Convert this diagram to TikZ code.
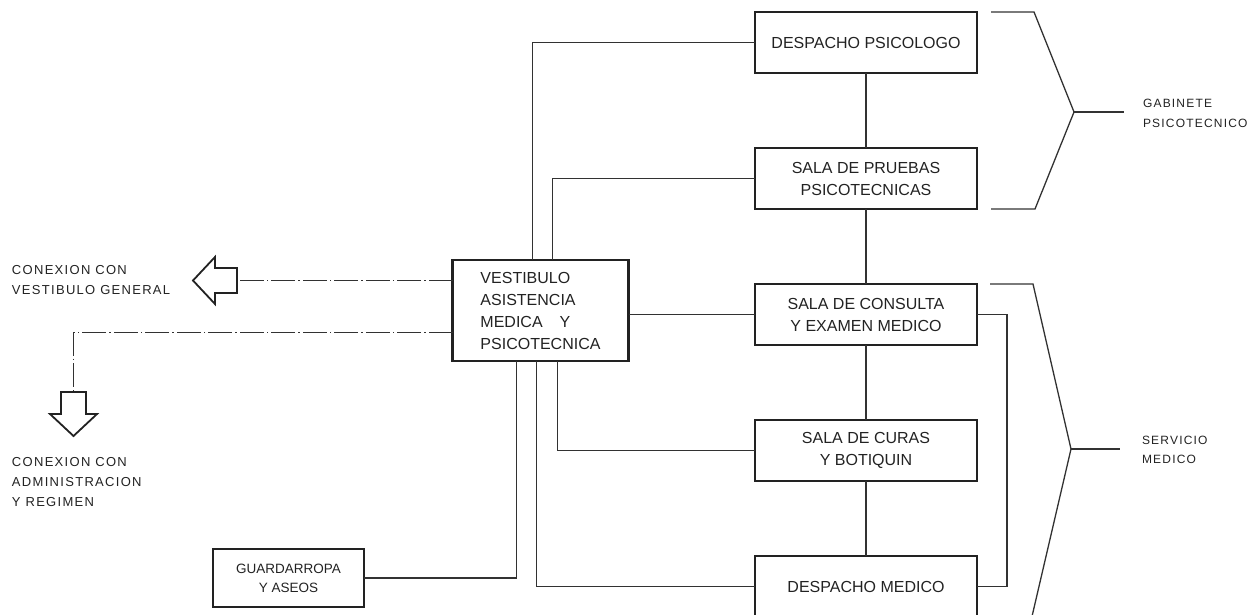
\documentclass[tikz,border=0pt]{standalone}
\usepackage{fontspec}
\usetikzlibrary{positioning}
\newfontfamily\boxfont{Liberation Sans}
\newfontfamily\lblfont{Liberation Sans}[LetterSpace=10]
\definecolor{myink}{RGB}{34,34,34}
\definecolor{myline}{RGB}{50,50,50}
\newcommand\hollowarrow[2]{
\draw[arrowb,shift={#1},rotate=#2]
  (0,-12.5) -- (22,-12.5) -- (22,-23.5) -- (44,0) -- (22,23.5) -- (22,12.5) -- (0,12.5) -- cycle;
}

\begin{document}
\begin{tikzpicture}[x=1pt,y=-1pt,outer sep=0pt,node distance=75pt,
roomb/.style={
  draw=myink,
  line width=2.2pt,
  text=myink,
  minimum width=222pt,
  minimum height=61pt,
  align=center,
  font={\boxfont\fontsize{16}{22}\selectfont}},
conn/.style={draw=myline,line width=1.3pt},
dashc/.style={conn,dash pattern=on 24pt off 3pt on 1.5pt off 3pt},
arrowb/.style={draw=myink,line width=1.8pt,line join=miter},
lbl/.style={text=myink,align=left,inner sep=0pt,
  font={\lblfont\fontsize{13}{20}\selectfont}},
grp/.style={lbl,font={\lblfont\fontsize{12}{19.5}\selectfont}},
]
\useasboundingbox (0,0) rectangle (1248,614);
\node[roomb] (psic) at (866,42.5) {DESPACHO PSICOLOGO};
\node[roomb,below=of psic] (prue) {SALA DE PRUEBAS\\PSICOTECNICAS};
\node[roomb,below=of prue] (cons) {SALA DE CONSULTA\\Y EXAMEN MEDICO};
\node[roomb,below=of cons] (cura) {SALA DE CURAS\\Y BOTIQUIN};
\node[roomb,below=of cura] (dmed) {DESPACHO MEDICO};
\node[roomb,minimum width=176pt,minimum height=101pt,align=left] (vest) at (540.5,310.5)
  {VESTIBULO\\ASISTENCIA\\MEDICA\hspace{17pt}Y\\PSICOTECNICA};
\node[roomb,minimum width=151pt,minimum height=58pt,
  font={\boxfont\fontsize{13.5}{19}\selectfont}] (guar) at (288.5,578) {GUARDARROPA\\Y ASEOS};
% labels
\node[lbl,anchor=west] (cgen) at (12,280) {CONEXION CON\\VESTIBULO GENERAL};
\node[lbl,anchor=west] (cadm) at (12,482) {CONEXION CON\\ADMINISTRACION\\Y REGIMEN};
\node[grp,anchor=west] (gab) at (1143,113.5) {GABINETE\\PSICOTECNICO};
\node[grp,anchor=west] (serv) at (1142,450) {SERVICIO\\MEDICO};
% connectors
\draw[conn] (psic) -- (prue);
\draw[conn] (prue) -- (cons);
\draw[conn] (cons) -- (cura);
\draw[conn] (cura) -- (dmed);
\draw[conn] ([xshift=80pt]vest.north west) |- (psic.west);
\draw[conn] ([xshift=100pt]vest.north west) |- (prue.west);
\draw[conn] (vest.east |- cons.west) -- (cons.west);
\draw[conn] ([xshift=105pt]vest.south west) |- (cura.west);
\draw[conn] ([xshift=84pt]vest.south west) |- (dmed.west);
\draw[conn] ([xshift=64pt]vest.south west) |- (guar.east);
\draw[conn] (cons.east) -- ++(30,0) |- (dmed.east);
% brackets
\coordinate (gabtip) at (1074,112);
\coordinate (servtip) at (1071,449);
\draw[conn] ([xshift=14pt]psic.north east) -- ++(43,0) -- (gabtip)
  -- ([xshift=58pt]prue.south east) -- ([xshift=14pt]prue.south east);
\draw[conn] (gabtip) -- ++(50,0);
\draw[conn] ([xshift=13pt]cons.north east) -- ++(43,0) -- (servtip) -- (1030,625);
\draw[conn] (servtip) -- ++(49,0);
% exits
\coordinate (gentail) at (237,280.5);
\coordinate (admtail) at (73.5,392);
\draw[dashc] (vest.west |- gentail) -- (gentail);
\draw[dashc] ([yshift=-22pt]vest.west) -| (admtail);
\hollowarrow{(gentail)}{180}
\hollowarrow{(admtail)}{-90}
\end{tikzpicture}
\end{document}
